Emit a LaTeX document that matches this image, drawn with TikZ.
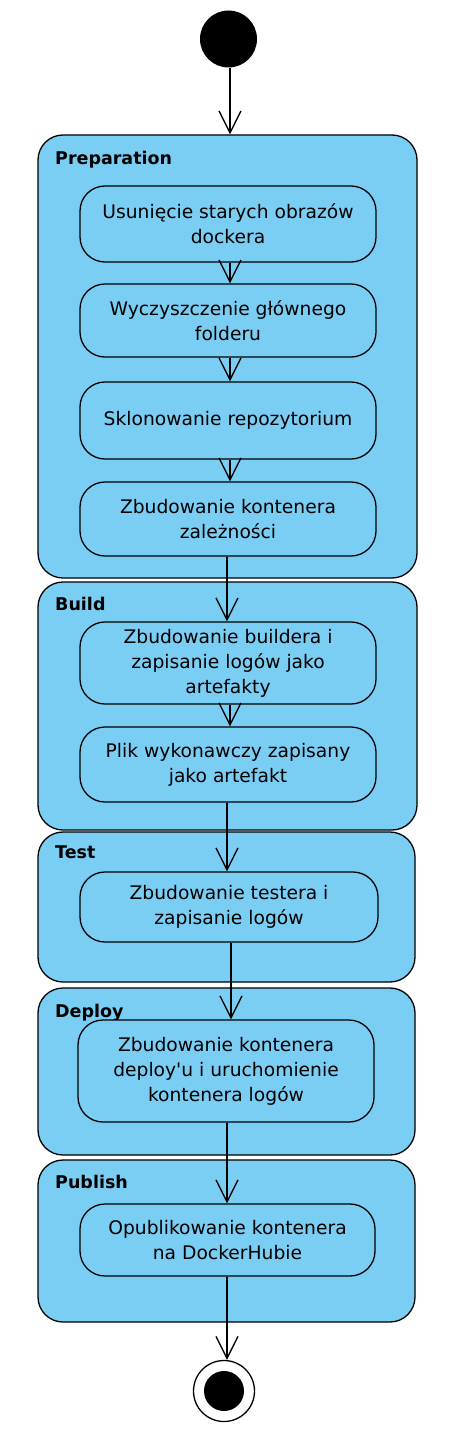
\documentclass[tikz,border=0pt]{standalone}
\usepackage{fontspec}
\setmainfont{DejaVu Sans}
\usetikzlibrary{arrows.meta}
\definecolor{partfill}{RGB}{122,205,243}
\tikzset{
  part/.style={draw=black, line width=1.3pt, fill=partfill, rounded corners=25pt, minimum width=379pt},
  act/.style={draw=black, line width=1.3pt, fill=partfill, rounded corners=25pt, align=center,
              font=\fontsize{18.7}{25}\selectfont, inner sep=0pt},
  plabel/.style={anchor=base west, font=\fontsize{17.5}{20}\selectfont\bfseries, inner sep=0pt},
  flow/.style={draw=black, line width=1.3pt, -{Straight Barb[length=22pt,width=22pt,line width=1.3pt]}},
}
\begin{document}
\begin{tikzpicture}[x=1pt,y=-1pt]
\useasboundingbox (0,0) rectangle (454,1442);
% partitions
\node[part, minimum height=443pt] (prep) at (227.5,356.5) {};
\node[part, minimum height=248pt] (build) at (227.5,706) {};
\node[part, minimum width=377pt, minimum height=150pt] (test) at (226.5,907) {};
\node[part, minimum width=377pt, minimum height=167pt] (deploy) at (226.5,1071.5) {};
\node[part, minimum width=377pt, minimum height=162pt] (publish) at (226.5,1241) {};
\node[plabel] (lprep) at (55,165) {Preparation};
\node[plabel] (lbuild) at (55,610) {Build};
\node[plabel] (ltest) at (55,858) {Test};
\node[plabel] (ldeploy) at (55,1017) {Deploy};
\node[plabel] (lpublish) at (55,1188) {Publish};
% start / end
\node[circle, fill=black, minimum size=57pt, inner sep=0pt] (start) at (228.5,39) {};
\node[circle, draw=black, line width=1.3pt, fill=white, minimum size=61pt, inner sep=0pt] (end) at (224,1391) {};
\node[circle, fill=black, minimum size=40pt, inner sep=0pt] (endin) at (224,1391) {};
% activities
\node[act, minimum width=296pt, minimum height=76pt] (a1) at (228,224) {Usunięcie starych obrazów\\dockera};
\node[act, minimum width=296pt, minimum height=73pt] (a2) at (228,320.5) {Wyczyszczenie głównego\\folderu};
\node[act, minimum width=296pt, minimum height=77pt] (a3) at (228,420.5) {Sklonowanie repozytorium};
\node[act, minimum width=296pt, minimum height=74pt] (a4) at (228,519) {Zbudowanie kontenera\\zależności};
\node[act, minimum width=296pt, minimum height=82pt] (b1) at (228,663) {Zbudowanie buildera i\\zapisanie logów jako\\artefakty};
\node[act, minimum width=296pt, minimum height=75pt] (b2) at (228,764.5) {Plik wykonawczy zapisany\\jako artefakt};
\node[act, minimum width=298pt, minimum height=70pt] (t1) at (229,907) {Zbudowanie testera i\\zapisanie logów};
\node[act, minimum width=296pt, minimum height=102pt] (d1) at (226,1071) {Zbudowanie kontenera\\deploy\textquotesingle u i uruchomienie\\kontenera logów};
\node[act, minimum width=295pt, minimum height=72pt] (p1) at (227.5,1240) {Opublikowanie kontenera\\na DockerHubie};
% flows
\draw[flow] ([xshift=1.5pt]start.south) -- ([xshift=1.5pt]start.south |- prep.north);
\draw[flow] ([xshift=2pt]a1.south) -- ([xshift=2pt]a2.north);
\draw[flow] ([xshift=2pt]a2.south) -- ([xshift=2pt]a3.north);
\draw[flow] ([xshift=2pt]a3.south) -- ([xshift=2pt]a4.north);
\draw[flow] ([xshift=-1pt]a4.south) -- ([xshift=-1pt]b1.north);
\draw[flow] ([xshift=2pt]b1.south) -- ([xshift=2pt]b2.north);
\draw[flow] ([xshift=-1pt]b2.south) -- ([xshift=-2pt]t1.north);
\draw[flow] ([xshift=2pt]t1.south) -- ([xshift=5pt]d1.north);
\draw[flow] ([xshift=1pt]d1.south) -- ([xshift=-0.5pt]p1.north);
\draw[flow] ([xshift=-0.5pt]p1.south) -- ([xshift=-0.5pt]p1.south |- end.north);
\end{tikzpicture}
\end{document}
